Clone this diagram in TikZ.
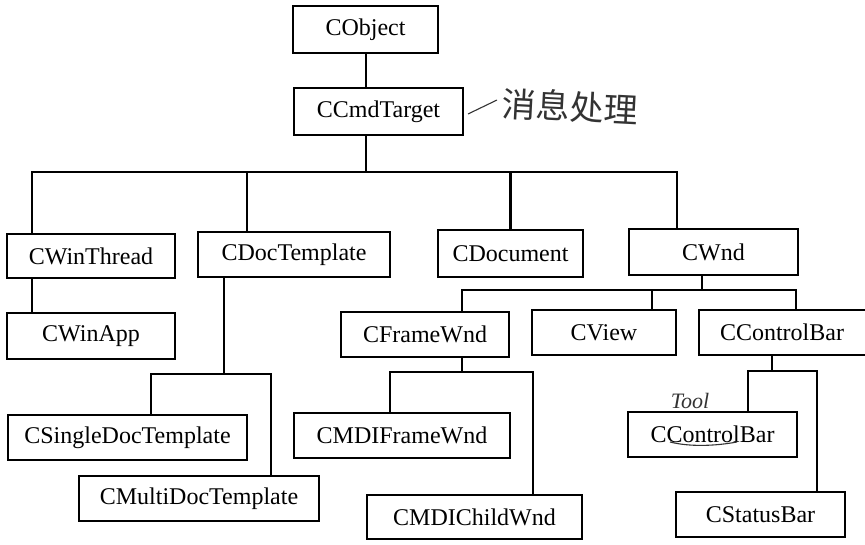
\documentclass[tikz,border=0pt]{standalone}
\usepackage{fontspec}
\setmainfont{Liberation Serif}
\newfontfamily\cjk{Noto Sans CJK SC}
\begin{document}
\begin{tikzpicture}[x=1pt,y=-1pt,
  cls/.style={draw,line width=2.4pt,inner sep=0pt,font=\fontsize{24}{24}\selectfont},
  link/.style={line width=2.4pt},
  hand/.style={line width=1.1pt,draw=black!80}]
\useasboundingbox (0,0) rectangle (865,544);
% classes
\node[cls,minimum width=145,minimum height=47] (object) at (365.5,29.5) {CObject};
\node[cls,minimum width=169,minimum height=47] (cmd) at (378.5,111.5) {CCmdTarget};
\node[cls,minimum width=168,minimum height=44] (winthread) at (91,256) {CWinThread};
\node[cls,minimum width=192,minimum height=45] (doctpl) at (294,254.5) {CDocTemplate};
\node[cls,minimum width=145,minimum height=47] (document) at (510.5,253.5) {CDocument};
\node[cls,minimum width=169,minimum height=46] (wnd) at (713.5,252) {CWnd};
\node[cls,minimum width=168,minimum height=46] (winapp) at (91,336) {CWinApp};
\node[cls,minimum width=239,minimum height=45] (single) at (127.5,437.5) {CSingleDocTemplate};
\node[cls,minimum width=240,minimum height=45] (multi) at (199,498.5) {CMultiDocTemplate};
\node[cls,minimum width=168,minimum height=45] (frame) at (425,334.5) {CFrameWnd};
\node[cls,minimum width=144,minimum height=45] (view) at (604,332.5) {CView};
\node[cls,minimum width=169,minimum height=45,text width=169,align=left] (ctrlbar) at (783.5,332.5) {\hspace*{21pt}CControlBar};
\node[cls,minimum width=216,minimum height=45] (mdiframe) at (402,435.5) {CMDIFrameWnd};
\node[cls,minimum width=215,minimum height=44] (mdichild) at (474.5,517) {CMDIChildWnd};
\node[cls,minimum width=169,minimum height=45] (toolbar) at (712.5,434.5) {CControlBar};
\node[cls,minimum width=169,minimum height=45] (status) at (760.5,514.5) {CStatusBar};
% bus points
\coordinate (b1) at (366,172);
\coordinate (b2) at (702,290);
\coordinate (b3) at (224,374);
\coordinate (b4) at (462,372);
\coordinate (b5) at (772,371);
% connectors
\draw[link] (b1 |- object.south) -- (b1 |- cmd.north);
\draw[link] (b1 |- cmd.south) -- (b1);
\draw[link] ([xshift=-59]winthread.north) |- (b1);
\draw[link] ([xshift=-47]doctpl.north) |- (b1);
\draw[link] (document.north) |- (b1);
\draw[link] ([xshift=-36.5]wnd.north) |- (b1);
\draw[link] ([xshift=-59]winthread.south) -- ([xshift=-59]winapp.north);
\draw[link] ([xshift=-70]doctpl.south) -- (b3);
\draw[link] ([xshift=23.5]single.north) |- (b3);
\draw[link] ([xshift=72]multi.north) |- (b3);
\draw[link] ([xshift=-11.5]wnd.south) -- (b2);
\draw[link] ([xshift=37]frame.north) |- (b2);
\draw[link] ([xshift=48]view.north) |- (b2);
\draw[link] ([xshift=12.5]ctrlbar.north) |- (b2);
\draw[link] ([xshift=37]frame.south) -- (b4);
\draw[link] ([xshift=-12]mdiframe.north) |- (b4);
\draw[link] ([xshift=58.5]mdichild.north) |- (b4);
\draw[link] ([xshift=-11.5]ctrlbar.south) -- (b5);
\draw[link] ([xshift=35.5]toolbar.north) |- (b5);
\draw[link] ([xshift=56.5]status.north) |- (b5);
% handwritten notes
\coordinate (n1) at (468,114);
\coordinate (n2) at (497,100);
\draw[hand] (n1) -- (n2);
\node[anchor=west,inner sep=0pt,text=black!80,font=\cjk\fontsize{34}{34}\selectfont,rotate=-3] (note) at (502,103) {消息处理};
\node[inner sep=0pt,text=black!80,font=\itshape\fontsize{22}{22}\selectfont] (tool) at (690,401) {Tool};
\coordinate (s1) at (670,442);
\coordinate (s2) at (737,442);
\draw[hand] (s1) .. controls (690,447) and (715,446) .. (s2);
\end{tikzpicture}
\end{document}
